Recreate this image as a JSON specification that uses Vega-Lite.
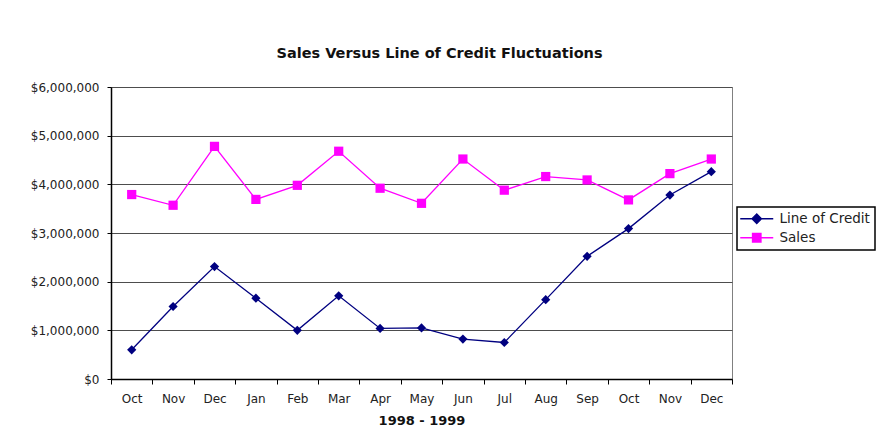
{
  "$schema": "https://vega.github.io/schema/vega-lite/v6.json",
  "width": 621,
  "height": 292,
  "autosize": {"type": "none"},
  "padding": {"left": 111, "top": 87, "right": 151, "bottom": 69},
  "background": "#ffffff",
  "title": {
    "text": "Sales Versus Line of Credit Fluctuations",
    "font": "DejaVu Sans",
    "fontSize": 14.5,
    "fontWeight": "bold",
    "color": "#111111",
    "anchor": "middle",
    "frame": "group",
    "baseline": "alphabetic",
    "offset": 9,
    "dx": 18
  },
  "data": {
    "values": [
      {"period": "Oct 1998", "series": "Line of Credit", "value": 600000},
      {"period": "Nov 1998", "series": "Line of Credit", "value": 1490000},
      {"period": "Dec 1998", "series": "Line of Credit", "value": 2310000},
      {"period": "Jan 1999", "series": "Line of Credit", "value": 1660000},
      {"period": "Feb 1999", "series": "Line of Credit", "value": 1000000},
      {"period": "Mar 1999", "series": "Line of Credit", "value": 1710000},
      {"period": "Apr 1999", "series": "Line of Credit", "value": 1040000},
      {"period": "May 1999", "series": "Line of Credit", "value": 1050000},
      {"period": "Jun 1999", "series": "Line of Credit", "value": 820000},
      {"period": "Jul 1999", "series": "Line of Credit", "value": 750000},
      {"period": "Aug 1999", "series": "Line of Credit", "value": 1630000},
      {"period": "Sep 1999", "series": "Line of Credit", "value": 2520000},
      {"period": "Oct 1999", "series": "Line of Credit", "value": 3090000},
      {"period": "Nov 1999", "series": "Line of Credit", "value": 3780000},
      {"period": "Dec 1999", "series": "Line of Credit", "value": 4260000},
      {"period": "Oct 1998", "series": "Sales", "value": 3790000},
      {"period": "Nov 1998", "series": "Sales", "value": 3570000},
      {"period": "Dec 1998", "series": "Sales", "value": 4780000},
      {"period": "Jan 1999", "series": "Sales", "value": 3690000},
      {"period": "Feb 1999", "series": "Sales", "value": 3980000},
      {"period": "Mar 1999", "series": "Sales", "value": 4680000},
      {"period": "Apr 1999", "series": "Sales", "value": 3920000},
      {"period": "May 1999", "series": "Sales", "value": 3610000},
      {"period": "Jun 1999", "series": "Sales", "value": 4520000},
      {"period": "Jul 1999", "series": "Sales", "value": 3880000},
      {"period": "Aug 1999", "series": "Sales", "value": 4160000},
      {"period": "Sep 1999", "series": "Sales", "value": 4090000},
      {"period": "Oct 1999", "series": "Sales", "value": 3680000},
      {"period": "Nov 1999", "series": "Sales", "value": 4220000},
      {"period": "Dec 1999", "series": "Sales", "value": 4520000}
    ]
  },
  "encoding": {
    "x": {
      "field": "period",
      "type": "nominal",
      "sort": null,
      "scale": {"paddingInner": 0, "paddingOuter": 0},
      "axis": {
        "title": "1998 - 1999",
        "titleFont": "DejaVu Sans",
        "titleFontSize": 13,
        "titleFontWeight": "bold",
        "titleColor": "#111111",
        "titleBaseline": "top",
        "titleY": 35,
        "labelExpr": "isString(datum.value) ? split(datum.value, ' ')[0] : ''",
        "labelAngle": 0,
        "labelFont": "DejaVu Sans",
        "labelFontSize": 12,
        "labelColor": "#222222",
        "labelPadding": 9,
        "tickBand": "extent",
        "tickSize": 5,
        "tickColor": "#000000",
        "domainColor": "#000000",
        "domainWidth": 1.5,
        "grid": false
      }
    },
    "y": {
      "field": "value",
      "type": "quantitative",
      "scale": {"domain": [0, 6000000], "nice": false},
      "axis": {
        "title": null,
        "values": [0, 1000000, 2000000, 3000000, 4000000, 5000000, 6000000],
        "format": "$,.0f",
        "labelFont": "DejaVu Sans",
        "labelFontSize": 12,
        "labelColor": "#222222",
        "labelPadding": 8,
        "tickSize": 4,
        "tickColor": "#000000",
        "domainColor": "#000000",
        "domainWidth": 1.5,
        "grid": true,
        "gridColor": "#4d4d4d",
        "gridWidth": 1
      }
    },
    "color": {
      "field": "series",
      "type": "nominal",
      "scale": {"domain": ["Line of Credit", "Sales"], "range": ["#000080", "#FF00FF"]},
      "legend": {
        "title": null,
        "orient": "none",
        "legendX": 626,
        "legendY": 120,
        "strokeColor": "#000000",
        "fillColor": "#ffffff",
        "padding": 5,
        "symbolSize": 100,
        "symbolOffset": 8,
        "labelOffset": 16,
        "rowPadding": 3,
        "labelFont": "DejaVu Sans",
        "labelFontSize": 13.5,
        "labelColor": "#222222",
        "encode": {
          "legend": {"update": {"strokeWidth": {"value": 1.5}}},
          "symbols": {
            "update": {
              "shape": {"signal": "datum.value === 'Sales' ? 'M-3.3,0H3.3M-0.85,-0.85H0.85V0.85H-0.85Z' : 'M-3.3,0H3.3M0,-0.95L0.95,0L0,0.95L-0.95,0Z'"},
              "fill": {"signal": "datum.value === 'Sales' ? '#FF00FF' : '#000080'"},
              "stroke": {"signal": "datum.value === 'Sales' ? '#FF00FF' : '#000080'"},
              "strokeWidth": {"value": 1.3},
              "opacity": {"value": 1}
            }
          }
        }
      }
    }
  },
  "layer": [
    {
      "mark": {"type": "line", "strokeWidth": 1.3}
    },
    {
      "mark": {"type": "point", "filled": true, "opacity": 1},
      "encoding": {
        "shape": {
          "condition": {"test": "datum.series === 'Sales'", "value": "square"},
          "value": "diamond"
        },
        "size": {"value": 85}
      }
    }
  ],
  "config": {
    "view": {"stroke": "#808080", "strokeWidth": 1}
  }
}
